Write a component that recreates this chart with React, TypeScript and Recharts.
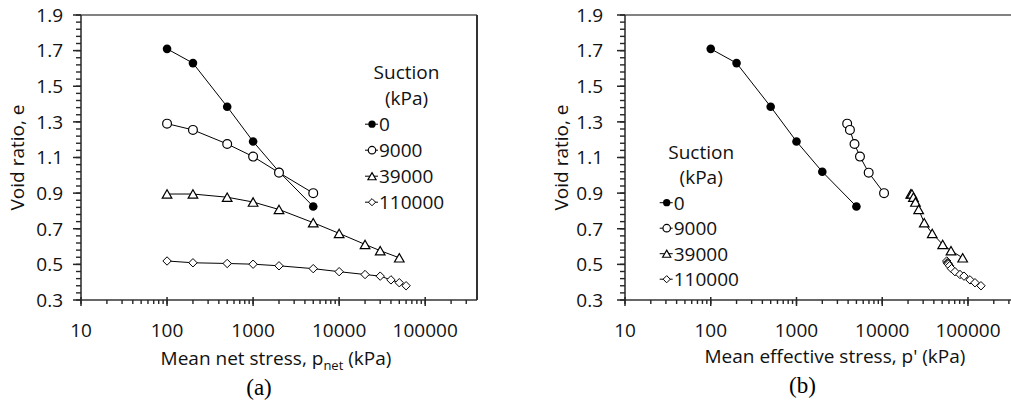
import React from "react";
import { LineChart, Line, XAxis, YAxis, Legend } from "recharts";

const FONT = "'Open Sans', 'Noto Sans', sans-serif";
const AXIS = "#333";
const TICK = "#262626";
const X_TICK = 4;
const Y_TICK = 5;

// tick labels
const xMajorTicks = [10, 100, 1000, 10000, 100000];
const yMajorTicks = [0.3, 0.5, 0.7, 0.9, 1.1, 1.3, 1.5, 1.7, 1.9];

// legend labels (suction, kPa)
const suctionLabels = ["0", "9000", "39000", "110000"];

// mean net stress, kPa
const netStress0 = [100, 200, 500, 1000, 2000, 5000];
const netStress9000 = [100, 200, 500, 1000, 2000, 5000];
const netStress39000 = [100, 200, 500, 1000, 2000, 5000, 10000, 20000, 30000, 50000];
const netStress110000 = [100, 200, 500, 1000, 2000, 5000, 10000, 20000, 30000, 40000, 50000, 60000];

// mean effective stress, kPa
const effStress0 = [100, 200, 500, 1000, 2000, 5000];
const effStress9000 = [3900, 4200, 4750, 5500, 6950, 10500];
const effStress39000 = [21500, 22200, 23100, 24400, 26600, 30900, 38300, 50700, 63400, 86700];
const effStress110000 = [56500, 57300, 58300, 59200, 60900, 64200, 70500, 80700, 89800, 105500, 120700, 141800];

// void ratio, e
const voidRatio0 = [1.71, 1.63, 1.385, 1.19, 1.02, 0.825];
const voidRatio9000 = [1.29, 1.255, 1.176, 1.105, 1.015, 0.9];
const voidRatio39000 = [0.895, 0.895, 0.877, 0.85, 0.808, 0.734, 0.674, 0.612, 0.577, 0.537];
const voidRatio110000 = [0.519, 0.509, 0.505, 0.501, 0.492, 0.476, 0.459, 0.443, 0.434, 0.413, 0.397, 0.38];

// minor ticks: 2..9 per decade on x, every 0.04 on y
const xTicks = xMajorTicks
  .flatMap((d) => [1, 2, 3, 4, 5, 6, 7, 8, 9].map((k) => k * d))
  .filter((v) => v <= 300000);
const yTicks = Array.from({ length: 41 }, (_, i) => +(0.3 + i * 0.04).toFixed(2));

type MarkerKind = "dot" | "circle" | "triangle" | "diamond";
const markers: MarkerKind[] = ["dot", "circle", "triangle", "diamond"];

const toPoints = (xs: number[], es: number[]) => xs.map((p, i) => ({ p, e: es[i] }));

const netSeries = [
  toPoints(netStress0, voidRatio0),
  toPoints(netStress9000, voidRatio9000),
  toPoints(netStress39000, voidRatio39000),
  toPoints(netStress110000, voidRatio110000),
];
const effSeries = [
  toPoints(effStress0, voidRatio0),
  toPoints(effStress9000, voidRatio9000),
  toPoints(effStress39000, voidRatio39000),
  toPoints(effStress110000, voidRatio110000),
];

function Marker({ kind, cx, cy, s = 1 }: { kind: MarkerKind; cx: number; cy: number; s?: number }) {
  if (kind === "dot") return <circle cx={cx} cy={cy} r={4.3 * s} fill="#000" />;
  if (kind === "circle")
    return <circle cx={cx} cy={cy} r={4.4 * s} fill="#fff" stroke="#000" strokeWidth={1.2} />;
  if (kind === "triangle") {
    const w = 4.8 * s;
    const h = 8.4 * s;
    return (
      <polygon
        points={`${cx},${cy - h / 2} ${cx + w},${cy + h / 2} ${cx - w},${cy + h / 2}`}
        fill="#fff"
        stroke="#000"
        strokeWidth={1.2}
      />
    );
  }
  const r = 4.2 * s;
  return (
    <polygon
      points={`${cx},${cy - r} ${cx + r},${cy} ${cx},${cy + r} ${cx - r},${cy}`}
      fill="#fff"
      stroke="#000"
      strokeWidth={1}
    />
  );
}

// native tick line gives every tick; majors get a longer mark and a label
const XTick = (props: any) => {
  const x = Number(props.x);
  const y = Number(props.y) - X_TICK; // axis line
  const v = props.payload.value;
  const major = xMajorTicks.includes(v);
  return (
    <g>
      {major && <path d={`M${x},${y - 3}V${y + 6}`} stroke={TICK} strokeWidth={1.5} />}
      {major && (
        <text x={x} y={y + 37} textAnchor="middle" fontSize={19} fontFamily={FONT} fill="#111">
          {v}
        </text>
      )}
    </g>
  );
};

function YTickBase(props: any) {
  const x = Number(props.x) + Y_TICK; // axis line
  const y = Number(props.y);
  const v = props.payload.value;
  const major = yMajorTicks.some((m) => Math.abs(m - v) < 1e-6);
  if (!major) return <g />;
  return (
    <g>
      <path d={`M${x - 8},${y}H${x}`} stroke={TICK} strokeWidth={1.5} />
      <text x={x - props.gap} y={y + 6.8} textAnchor="end" fontSize={19} fontFamily={FONT} fill="#111">
        {v.toFixed(1)}
      </text>
    </g>
  );
}
const YTickLeft = (props: any) => <YTickBase {...props} gap={18} />;
const YTickRight = (props: any) => <YTickBase {...props} gap={22} />;

interface PanelProps {
  left: number;
  width: number;
  yAxisWidth: number;
  marginRight: number;
  series: { p: number; e: number }[][];
  yTick: (props: any) => React.ReactElement;
  yTitleX: number;
  xTitle: React.ReactNode;
  xTitleX: number;
  xTitleY: number;
  panelLabel: string;
  panelX: number;
  panelY: number;
  legendX: number;
  legendTop: number;
  legendStep: number;
}

function SuctionLegend({ pp }: { pp: PanelProps }) {
  return (
    <svg width={pp.width} height={406} style={{ display: "block", pointerEvents: "none" }} fontFamily={FONT}>
      <text x={pp.legendX + 34.5} y={pp.legendTop} textAnchor="middle" fontSize={19} fill="#111">
        Suction
      </text>
      <text x={pp.legendX + 34.5} y={pp.legendTop + pp.legendStep} textAnchor="middle" fontSize={19} fill="#111">
        (kPa)
      </text>
      {suctionLabels.map((lab, i) => {
        const cy = pp.legendTop + pp.legendStep * (i + 2) - 6.8;
        return (
          <g key={lab}>
            <line x1={pp.legendX - 7} y1={cy} x2={pp.legendX + 6} y2={cy} stroke="#000" strokeWidth={1} />
            <Marker kind={markers[i]} cx={pp.legendX} cy={cy} s={0.85} />
            <text x={pp.legendX + 7} y={cy + 6.8} fontSize={19} fill="#111">
              {lab}
            </text>
          </g>
        );
      })}
    </svg>
  );
}

function Panel(pp: PanelProps) {
  return (
    <div style={{ position: "absolute", left: pp.left, top: 0, width: pp.width, height: 406 }}>
      <LineChart
        width={pp.width}
        height={406}
        margin={{ top: 14, right: pp.marginRight - 1, bottom: 0, left: 0 }}
      >
        <XAxis
          dataKey="p"
          type="number"
          scale="log"
          domain={[10, 400000]}
          allowDataOverflow
          ticks={xTicks}
          interval={0}
          tickSize={X_TICK}
          tickMargin={0}
          tickLine={{ stroke: TICK, strokeWidth: 1.4 }}
          tick={XTick}
          height={106}
          axisLine={{ stroke: AXIS, strokeWidth: 1.6 }}
          label={() => (
            <g>
              <text x={pp.xTitleX} y={pp.xTitleY} textAnchor="middle" fontSize={19} fontFamily={FONT} fill="#111">
                {pp.xTitle}
              </text>
              <text
                x={pp.panelX}
                y={pp.panelY}
                textAnchor="middle"
                fontSize={23}
                fontFamily="'Liberation Serif', 'Times New Roman', serif"
                fill="#000"
              >
                {pp.panelLabel}
              </text>
            </g>
          )}
        />
        {/* top frame line */}
        <XAxis
          xAxisId="frame"
          orientation="top"
          type="number"
          scale="log"
          domain={[10, 400000]}
          allowDataOverflow
          height={1}
          tick={false}
          tickLine={false}
          axisLine={{ stroke: "#595959", strokeWidth: 1.6 }}
        />
        <YAxis
          type="number"
          domain={[0.3, 1.9]}
          allowDataOverflow
          ticks={yTicks}
          interval={0}
          tickSize={Y_TICK}
          tickMargin={0}
          tickLine={{ stroke: TICK, strokeWidth: 1.4 }}
          tick={pp.yTick}
          width={pp.yAxisWidth}
          axisLine={{ stroke: AXIS, strokeWidth: 1.6 }}
          label={() => (
            <text
              transform={`translate(${pp.yTitleX}, 157.5) rotate(-90)`}
              textAnchor="middle"
              fontSize={19}
              fontFamily={FONT}
              fill="#111"
            >
              Void ratio, e
            </text>
          )}
        />
        {/* right frame line */}
        <YAxis
          yAxisId="frame"
          orientation="right"
          type="number"
          domain={[0.3, 1.9]}
          allowDataOverflow
          width={1}
          tick={false}
          tickLine={false}
          axisLine={{ stroke: AXIS, strokeWidth: 2 }}
        />
        <Legend
          verticalAlign="middle"
          align="center"
          layout="horizontal"
          width={pp.width}
          height={406}
          wrapperStyle={{ left: 0, top: 0, pointerEvents: "none" }}
          content={() => <SuctionLegend pp={pp} />}
        />
        {pp.series.map((pts, si) => (
          <Line
            key={suctionLabels[si]}
            name={suctionLabels[si]}
            data={pts}
            dataKey="e"
            type="linear"
            stroke="#000"
            strokeWidth={1}
            isAnimationActive={false}
            dot={(d: any) => <Marker key={`m-${si}-${d.index}`} kind={markers[si]} cx={d.cx} cy={d.cy} />}
            activeDot={false}
          />
        ))}
      </LineChart>
    </div>
  );
}

export default function App() {
  return (
    <div
      style={{
        position: "absolute",
        left: 0,
        top: 0,
        width: 1011,
        height: 406,
        overflow: "hidden",
        background: "#fff",
      }}
    >
      <Panel
        left={0}
        width={510}
        yAxisWidth={81}
        marginRight={33}
        series={netSeries}
        yTick={YTickLeft}
        yTitleX={24}
        xTitle={
          <>
            <tspan>Mean net stress, p</tspan>
            <tspan fontSize={13} dy={5}>
              net
            </tspan>
            <tspan dy={-5}> (kPa)</tspan>
          </>
        }
        xTitleX={276}
        xTitleY={365}
        panelLabel="(a)"
        panelX={259}
        panelY={395}
        legendX={372}
        legendTop={79}
        legendStep={26}
      />
      <Panel
        left={520}
        width={520}
        yAxisWidth={105}
        marginRight={20.4}
        series={effSeries}
        yTick={YTickRight}
        yTitleX={48}
        xTitle="Mean effective stress, p' (kPa)"
        xTitleX={315}
        xTitleY={363}
        panelLabel="(b)"
        panelX={282.5}
        panelY={393}
        legendX={146.7}
        legendTop={158.5}
        legendStep={25.5}
      />
    </div>
  );
}
